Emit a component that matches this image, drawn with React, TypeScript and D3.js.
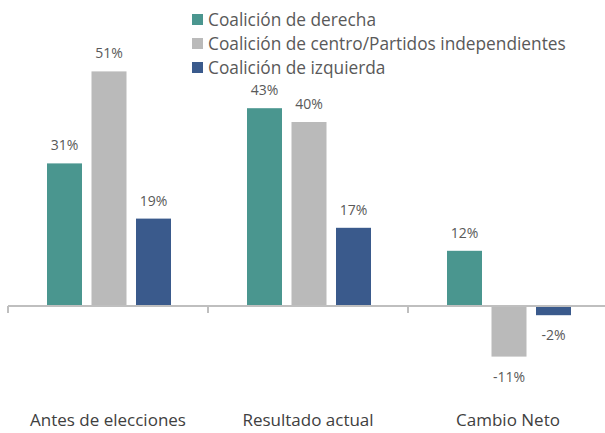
import React from "react";
import * as d3 from "d3";

const categories = ["Antes de elecciones", "Resultado actual", "Cambio Neto"];
const seriesNames = [
  "Coalición de derecha",
  "Coalición de centro/Partidos independientes",
  "Coalición de izquierda",
];
const derecha = [31, 43, 12];
const centro = [51, 40, -11];
const izquierda = [19, 17, -2];
const colors = ["#4A968F", "#BABABA", "#3A5A8C"];

const W = 605;
const H = 433;
const FONT = "'Open Sans', sans-serif";

export default function App() {
  const series = [derecha, centro, izquierda];
  const x = d3.scaleBand<string>().domain(categories).range([8, 608]).paddingInner(0).paddingOuter(0);
  const xi = d3
    .scaleBand<number>()
    .domain([0, 1, 2])
    .range([39, 163])
    .paddingInner(0.2135)
    .paddingOuter(0);
  const y = d3.scaleLinear().domain([-15, 55]).range([375, 53]);
  const y0 = y(0);

  return (
    <svg width={W} height={H} style={{ position: "absolute", left: 0, top: 0, background: "#fff" }}>
      {categories.map((c, ci) => (
        <g key={c} transform={`translate(${x(c)},0)`}>
          {series.map((s, si) => {
            const v = s[ci];
            const top = Math.min(y(v), y0);
            const h = Math.abs(y(v) - y0);
            const bx = xi(si)!;
            const bw = xi.bandwidth();
            const ly = v >= 0 ? y(v) - 13 : y(v) + 25;
            return (
              <g key={si}>
                <rect x={bx} y={top} width={bw} height={h} fill={colors[si]} />
                <text
                  x={bx + bw / 2}
                  y={ly}
                  textAnchor="middle"
                  fontFamily={FONT}
                  fontSize={14}
                  fill="#595959"
                >
                  {`${v}%`}
                </text>
              </g>
            );
          })}
        </g>
      ))}
      <line x1={x(categories[0])!} x2={W} y1={y0} y2={y0} stroke="#BFBFBF" strokeWidth={2} />
      {categories.map((c) => (
        <line key={c} x1={x(c)!} x2={x(c)!} y1={y0} y2={y0 + 7} stroke="#BFBFBF" strokeWidth={2} />
      ))}
      {categories.map((c) => (
        <text
          key={c}
          x={x(c)! + x.bandwidth() / 2}
          y={426}
          textAnchor="middle"
          fontFamily={FONT}
          fontSize={17}
          fill="#404040"
        >
          {c}
        </text>
      ))}
      {seriesNames.map((n, i) => (
        <g key={n} transform={`translate(192,${20 + i * 24})`}>
          <rect x={0} y={-6} width={11} height={11} fill={colors[i]} />
          <text x={16} y={6} fontFamily={FONT} fontSize={17.3} fill="#595959">
            {n}
          </text>
        </g>
      ))}
    </svg>
  );
}
